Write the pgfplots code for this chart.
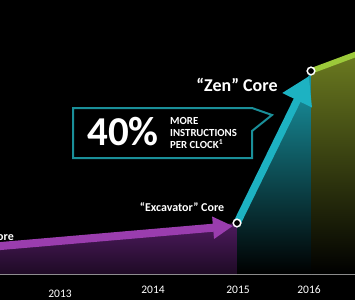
\documentclass[border=0pt]{standalone}
\usepackage{pgfplots}
\pgfplotsset{compat=1.18}
\usepackage{fontspec}
\setmainfont{Carlito}
\usetikzlibrary{arrows.meta}
\definecolor{purpA}{HTML}{9A3DAE}
\definecolor{purpF}{HTML}{4E1B5E}
\definecolor{purpB}{HTML}{1E0A25}
\definecolor{tealA}{HTML}{1DB2C2}
\definecolor{tealF}{HTML}{1A9AA8}
\definecolor{tealM}{HTML}{0C525A}
\definecolor{tealBox}{HTML}{1A8F99}
\definecolor{greenL}{HTML}{9CC93A}
\definecolor{oliveF}{HTML}{6B7A20}
\definecolor{oliveM}{HTML}{343A0E}
\begin{document}
\begin{tikzpicture}
\path[use as bounding box, fill=black] (0pt,-26pt) rectangle (355pt,274pt);
\begin{axis}[at={(0pt,0pt)}, anchor=south west,
  width=355pt, height=274pt, scale only axis,
  xmin=0, xmax=355, ymin=0, ymax=274,
  clip=false,
  axis y line=none, axis x line=bottom,
  x axis line style={draw=gray!75, line width=0.8pt, -},
  xtick={60,153,238,309},
  xticklabels={\raisebox{-4pt}[\height]{2013},2014,2015,2016},
  major tick length=0pt, ytick=\empty,
  /pgf/number format/assume math mode=true,
  xticklabel style={text=white, font=\fontsize{11.5}{13}\selectfont, yshift=-8pt},
]
% fills
\addplot[draw=none, top color=purpF, bottom color=purpB] coordinates {(0,27) (237,51) (237,0) (0,0)} -- cycle;
\addplot[draw=none, top color=tealF, middle color=tealM, bottom color=black] coordinates {(237,51) (311,203) (311,0) (237,0)} -- cycle;
\addplot[draw=none, top color=oliveF, middle color=oliveM, bottom color=black] coordinates {(311,203) (355,220) (355,0) (311,0)} -- cycle;
% lines / arrows
\addplot[purpA, line width=8pt, -{Triangle[width=21pt,length=20pt]}] coordinates {(-5,27.5) (233,48)};
\addplot[tealA, line width=7.5pt, -{Triangle[width=31pt,length=27pt]}] coordinates {(237,51) (309,198)};
\addplot[greenL, line width=5.5pt] coordinates {(311,203) (362,222)};
\addplot[only marks, mark=*, mark size=3.8pt, mark options={fill=black, draw=white, line width=1.5pt}] coordinates {(237,51) (311,203)};
% callout
\draw[tealBox, line width=2pt, fill=black] (axis cs:73,166) -- (axis cs:252,166) -- (axis cs:272,159) -- (axis cs:252,143) -- (axis cs:252,116) -- (axis cs:73,116) -- cycle;
\node[text=white, font=\bfseries\fontsize{41}{43}\selectfont, inner sep=0pt] at (axis cs:123,142) {40\%};
\node[text=white, font=\bfseries\fontsize{10.8}{12}\selectfont, align=left, anchor=west, inner sep=0pt] at (axis cs:170,141) {MORE\\INSTRUCTIONS\\PER CLOCK\textsuperscript{1}};
% labels
\node[text=white, font=\bfseries\fontsize{12}{14}\selectfont] at (axis cs:182,67) {“Excavator” Core};
\node[text=white, font=\bfseries\fontsize{18}{20}\selectfont] at (axis cs:237,189) {“Zen” Core};
\node[text=white, font=\bfseries\fontsize{12}{14}\selectfont, anchor=east, inner sep=0pt] at (axis cs:14,38) {“Steamroller” Core};
\end{axis}
\end{tikzpicture}
\end{document}
